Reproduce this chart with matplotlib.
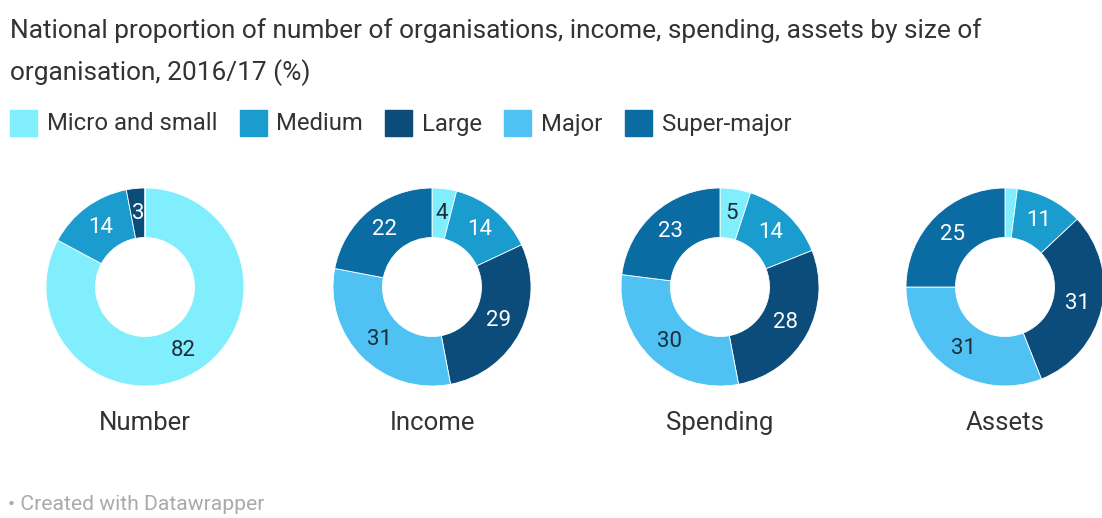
import numpy as np
import matplotlib.pyplot as plt
from matplotlib.patches import Rectangle

plt.rcParams['font.family'] = ['Roboto', 'DejaVu Sans']

sizes = ['Micro and small', 'Medium', 'Large', 'Major', 'Super-major']
colours = ['#80eefc', '#1a9ccf', '#0b4c7a', '#4fc2f3', '#0a6ca3']
label_colours = ['#1d2c3a', 'white', 'white', '#1d2c3a', 'white']

measures = ['Number', 'Income', 'Spending', 'Assets']
number = [82, 14, 3, 0, 0]
income = [4, 14, 29, 31, 22]
spending = [5, 14, 28, 30, 23]
assets = [2, 11, 31, 31, 25]
shares = [number, income, spending, assets]

W, H = 1102, 518
fig = plt.figure(figsize=(W / 100, H / 100), dpi=100)
fig.patch.set_facecolor('white')

def fx(px):
    return px / W

def fy(py):
    return 1 - py / H

# title, two lines
fig.text(fx(10), fy(31), 'National proportion of number of organisations, income, spending, assets by size of',
         fontsize=18.9, color='#333333', va='center', ha='left')
fig.text(fx(10), fy(73), 'organisation, 2016/17 (%)',
         fontsize=18.9, color='#333333', va='center', ha='left')

# legend row
renderer = fig.canvas.get_renderer()
x = 10
for name, c in zip(sizes, colours):
    fig.patches.append(Rectangle((fx(x), fy(136)), fx(27), 26 / H, color=c,
                                 transform=fig.transFigure, figure=fig))
    t = fig.text(fx(x + 37), fy(124), name, fontsize=17.2, color='#333333', va='center', ha='left')
    w = t.get_window_extent(renderer).width
    x = x + 37 + w + 22

# donuts
centres = [145, 432, 720, 1005]
R = 99
for cx, title, vals in zip(centres, measures, shares):
    ax = fig.add_axes([fx(cx - R), fy(287 + R), 2 * R / W, 2 * R / H])
    wedges, _ = ax.pie(vals, colors=colours, startangle=90, counterclock=False, radius=1,
                       wedgeprops=dict(width=0.5, edgecolor='white', linewidth=0.6))
    ax.set_xlim(-1, 1)
    ax.set_ylim(-1, 1)
    ax.set_aspect('equal')
    ax.axis('off')
    total = sum(vals)
    start = 0
    for v, lc in zip(vals, label_colours):
        mid = (start + v / 2) / total * 2 * np.pi
        start += v
        if v < 3:
            continue
        ax.text(0.75 * np.sin(mid), 0.75 * np.cos(mid), '%d' % v, ha='center', va='center',
                fontsize=16, color=lc)
    fig.text(fx(cx), fy(423), title, fontsize=18.5, color='#333333', ha='center', va='center')

fig.text(fx(8), fy(505), '• Created with Datawrapper', fontsize=15.2, color='#aaaaaa', ha='left', va='center')

fig.savefig('out.png', dpi=100, facecolor='white')
